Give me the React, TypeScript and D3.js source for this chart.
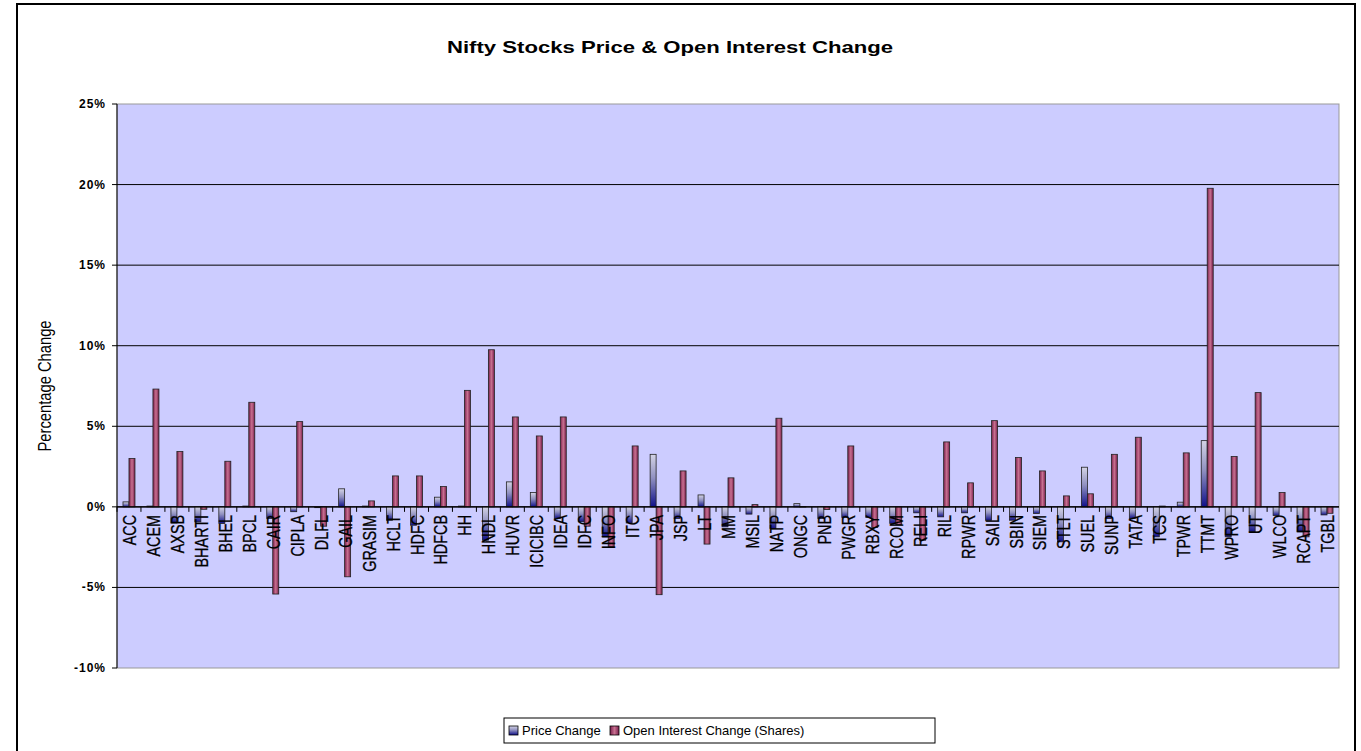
import React from "react";
import * as d3 from "d3";

const categories = ["ACC","ACEM","AXSB","BHARTI","BHEL","BPCL","CAIR","CIPLA","DLFL","GAIL","GRASIM","HCLT","HDFC","HDFCB","HH","HNDL","HUVR","ICICIBC","IDEA","IDFC","INFO","ITC","JPA","JSP","LT","MM","MSIL","NATP","ONGC","PNB","PWGR","RBXY","RCOM","RELI","RIL","RPWR","SAIL","SBIN","SIEM","STLT","SUEL","SUNP","TATA","TCS","TPWR","TTMT","WPRO","UT","WLCO","RCAPT","TGBL"];

const priceChange = [0.31,0.05,-1.0,-0.93,-1.03,0.05,-0.72,-0.3,-0.05,1.12,0.05,-0.83,-1.14,0.6,0.05,-2.07,1.55,0.89,-0.72,-0.93,-1.86,-1.0,3.26,-0.72,0.74,-1.24,-0.45,-1.34,0.2,-0.72,-0.66,-0.66,-1.03,-0.37,-0.62,-0.37,-0.83,-0.83,-0.41,-2.17,2.46,-0.72,-0.72,-1.86,0.29,4.11,-1.86,-1.55,-0.54,-1.55,-0.5];

const oiChange = [3.0,7.31,3.43,-0.15,2.83,6.49,-5.41,5.29,-1.2,-4.34,0.37,1.92,1.92,1.26,7.23,9.75,5.58,4.4,5.58,-1.2,-2.48,3.78,-5.45,2.23,-2.31,1.8,0.14,5.5,0.02,-0.17,3.78,-1.28,-1.1,-2.07,4.03,1.49,5.35,3.06,2.23,0.68,0.81,3.26,4.32,0.05,3.35,19.77,3.12,7.09,0.89,-1.86,-0.4];

const yTicks = [-10,-5,0,5,10,15,20,25];

const seriesNames = ["Price Change","Open Interest Change (Shares)"];

export default function App() {
  const W = 1361, H = 751;
  const left = 117, right = 1339, top = 104, bottom = 668;
  const x = d3.scaleBand<string>().domain(categories).range([left, right]).paddingInner(0).paddingOuter(0);
  const y = d3.scaleLinear().domain([-10, 25]).range([bottom, top]);
  const bw = x.bandwidth() / 4;
  const arial = "'Liberation Sans', Arial, sans-serif";

  const barRect = (v: number, xs: number, fill: string, key: string) => {
    const y0 = y(0), y1 = y(v);
    return (
      <rect key={key} x={xs} y={Math.min(y0, y1)} width={bw} height={Math.max(Math.abs(y1 - y0), 0.5)}
        fill={fill} stroke="#222" strokeWidth={0.8} />
    );
  };

  return (
    <svg width={W} height={H} style={{ position: "absolute", left: 0, top: 0, display: "block" }}>
      <defs>
        <linearGradient id="gPrice" x1="0" y1="0" x2="0" y2="1">
          <stop offset="0%" stopColor="#d4d4e6" />
          <stop offset="45%" stopColor="#9090c0" />
          <stop offset="100%" stopColor="#10108a" />
        </linearGradient>
        <linearGradient id="gOI" x1="0" y1="0" x2="1" y2="0">
          <stop offset="0%" stopColor="#7a1f4c" />
          <stop offset="50%" stopColor="#c87090" />
          <stop offset="100%" stopColor="#7a1f4c" />
        </linearGradient>
      </defs>
      <rect x={0} y={0} width={W} height={H} fill="#ffffff" />
      <rect x={17} y={4} width={1338} height={760} fill="#ffffff" stroke="#000" strokeWidth={2} />
      <text x={670} y={53} textAnchor="middle" fontFamily={arial} fontWeight="bold" fontSize={17}
        textLength={446} lengthAdjust="spacingAndGlyphs">
        Nifty Stocks Price &amp; Open Interest Change
      </text>

      {/* plot area */}
      <rect x={left} y={top} width={right - left} height={bottom - top} fill="#ccccff" stroke="#999" strokeWidth={1} />
      {yTicks.filter(t => t !== -10 && t !== 25).map(t => (
        <line key={"g" + t} x1={left} x2={right} y1={y(t)} y2={y(t)} stroke="#000" strokeWidth={1} />
      ))}
      {/* y axis */}
      <line x1={left} x2={left} y1={top} y2={bottom} stroke="#000" strokeWidth={1} />
      {yTicks.map(t => (
        <g key={"yt" + t}>
          <line x1={left - 5} x2={left} y1={y(t)} y2={y(t)} stroke="#000" />
          <text x={left - 11} y={y(t) + 4} textAnchor="end" fontFamily={arial} fontWeight="bold" fontSize={12}
            letterSpacing={1}>
            {t + "%"}
          </text>
        </g>
      ))}
      <text transform={`translate(51,${(top + bottom) / 2}) rotate(-90) scale(0.82,1)`} textAnchor="middle"
        fontFamily={arial} fontSize={18}>Percentage Change</text>

      {/* bars */}
      {categories.map((c, i) => {
        const cx = (x(c) as number) + x.bandwidth() / 2;
        return (
          <g key={c}>
            {barRect(priceChange[i], cx - bw, "url(#gPrice)", "p")}
            {barRect(oiChange[i], cx, "url(#gOI)", "o")}
          </g>
        );
      })}

      {/* x axis */}
      <line x1={left} x2={right} y1={y(0)} y2={y(0)} stroke="#000" strokeWidth={1.2} />
      {categories.map(c => (
        <line key={"xt" + c} x1={x(c) as number} x2={x(c) as number} y1={y(0)} y2={y(0) + 5} stroke="#000" />
      ))}
      {categories.map(c => {
        const cx = (x(c) as number) + x.bandwidth() / 2;
        return (
          <text key={"xl" + c} transform={`translate(${cx + 7},${y(0) + 8}) rotate(-90) scale(0.76,1)`} textAnchor="end"
            fontFamily={arial} fontSize={19} stroke="#000" strokeWidth={0.3}>{c}</text>
        );
      })}

      {/* legend */}
      <rect x={504} y={718} width={431} height={25} fill="#fff" stroke="#000" strokeWidth={1} />
      <rect x={509} y={726} width={9} height={9} fill="url(#gPrice)" stroke="#000" strokeWidth={0.8} />
      <text x={522} y={735} fontFamily={arial} fontSize={13}>{seriesNames[0]}</text>
      <rect x={610} y={726} width={9} height={9} fill="url(#gOI)" stroke="#000" strokeWidth={0.8} />
      <text x={623} y={735} fontFamily={arial} fontSize={13}>{seriesNames[1]}</text>
    </svg>
  );
}
